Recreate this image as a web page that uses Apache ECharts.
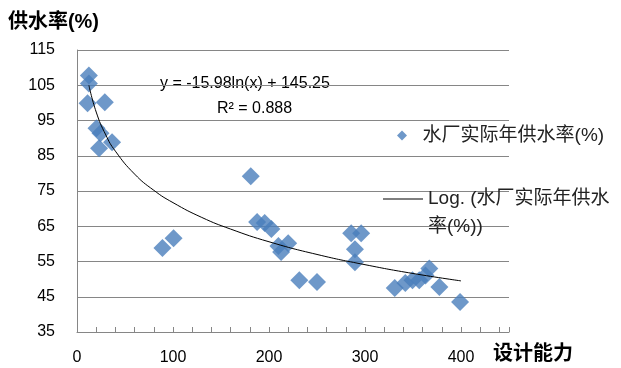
<!DOCTYPE html>
<html>
<head>
<meta charset="utf-8">
<script src="https://cdn.jsdelivr.net/npm/echarts@6/dist/echarts.min.js"></script>
<style>
  html, body { margin: 0; padding: 0; background: #fff; }
  #chart { width: 621px; height: 368px; }
</style>
</head>
<body>
<div id="chart"></div>
<script>
// 设计能力 (x) and 供水率 (y)
const capacity = [12.4, 12.4, 11, 29, 20.3, 24.5, 23, 36.5, 181, 89, 100.6, 187.6, 195.5, 202.5, 209.8, 212.6, 220, 231.6, 250, 285.6, 296, 289.5, 289.5, 331, 342, 349.5, 356.5, 363, 367, 377.5, 399];
const supplyRate = [107.8, 105.5, 99.9, 100.2, 92.8, 91.4, 87.1, 88.8, 79.2, 58.8, 61.6, 66.2, 65.9, 64.2, 59.4, 57.7, 60.2, 49.7, 49.2, 63, 63, 58.5, 54.8, 47.5, 48.9, 49.7, 49.7, 51, 53, 47.8, 43.5];

// points along the log trend line as drawn
const trendX = [12.4, 20, 30, 40, 60, 80, 100, 130, 160, 200, 250, 300, 350, 400];
const trendY = [105.0, 97.4, 90.9, 86.3, 79.8, 75.2, 71.7, 67.5, 64.2, 60.6, 57.0, 54.1, 51.6, 49.5];

const scatterName = "水厂实际年供水率(%)";
const trendName = "Log. (水厂实际年供水率(%))";

const font = "Liberation Sans, Noto Sans CJK SC";

var dom = document.getElementById("chart");
var myChart = echarts.init(dom, null, { renderer: "canvas" });

const scatterData = capacity.map((x, i) => [x, supplyRate[i]]);
const trendData = trendX.map((x, i) => [x, trendY[i]]);

var option = {
  animation: false,
  textStyle: { fontFamily: font },
  grid: { left: 77, right: 112, top: 50, bottom: 36 },
  legend: [
    {
      data: [scatterName],
      left: 392,
      top: 121,
      itemWidth: 10,
      itemHeight: 10,
      formatter: (name) => "  " + name,
      textStyle: { fontSize: 19, color: "#222", fontFamily: font }
    },
    {
      // blank first line so the icon sits beside the first text line
      data: [{ name: trendName, icon: "path://M0,0L40,0L40,1L0,1Z" }],
      left: 378,
      top: 152,
      itemWidth: 40,
      itemHeight: 1,
      itemStyle: { color: "#000" },
      formatter: () => " \nLog. (水厂实际年供水\n率(%))",
      textStyle: { fontSize: 19, color: "#222", lineHeight: 28, fontFamily: font }
    }
  ],
  xAxis: {
    type: "value",
    min: 0,
    max: 450,
    interval: 100,
    name: "设计能力",
    nameLocation: "end",
    nameGap: -16,
    nameTextStyle: { fontSize: 20, fontWeight: "bold", color: "#000", align: "left", verticalAlign: "top", padding: [12, 0, 0, 0] },
    axisLine: { show: true, lineStyle: { color: "#868686" } },
    axisTick: { show: true, inside: true, length: 5, lineStyle: { color: "#868686" } },
    minorTick: { show: true, splitNumber: 5, length: 5, lineStyle: { color: "#868686" } },
    splitLine: { show: false },
    axisLabel: {
      fontSize: 16,
      color: "#000",
      margin: 18,
      formatter: (v) => (v > 400 ? "" : String(v))
    }
  },
  yAxis: {
    type: "value",
    min: 35,
    max: 115,
    interval: 10,
    name: "供水率(%)",
    nameLocation: "end",
    nameGap: 18,
    nameTextStyle: { fontSize: 20, fontWeight: "bold", color: "#000", align: "right", padding: [0, -22, 0, 0] },
    axisLine: { show: true, lineStyle: { color: "#868686" } },
    axisTick: { show: false },
    splitLine: { show: true, lineStyle: { color: "#868686", width: 1 } },
    axisLabel: { fontSize: 16, color: "#000", margin: 22 }
  },
  graphic: [
    { type: "text", left: 160, top: 76, style: { text: "y = -15.98ln(x) + 145.25", fontSize: 16, fill: "#000", fontFamily: font } },
    { type: "text", left: 217, top: 101, style: { text: "R² = 0.888", fontSize: 16, fill: "#000", fontFamily: font } }
  ],
  series: [
    {
      name: scatterName,
      type: "scatter",
      symbol: "diamond",
      symbolSize: 18,
      itemStyle: { color: "#4a7ebb" },
      data: scatterData,
      z: 2
    },
    {
      name: trendName,
      type: "line",
      symbol: "none",
      smooth: true,
      lineStyle: { color: "#000", width: 1 },
      itemStyle: { color: "#000" },
      data: trendData,
      z: 3
    }
  ]
};

myChart.setOption(option);
</script>
</body>
</html>
